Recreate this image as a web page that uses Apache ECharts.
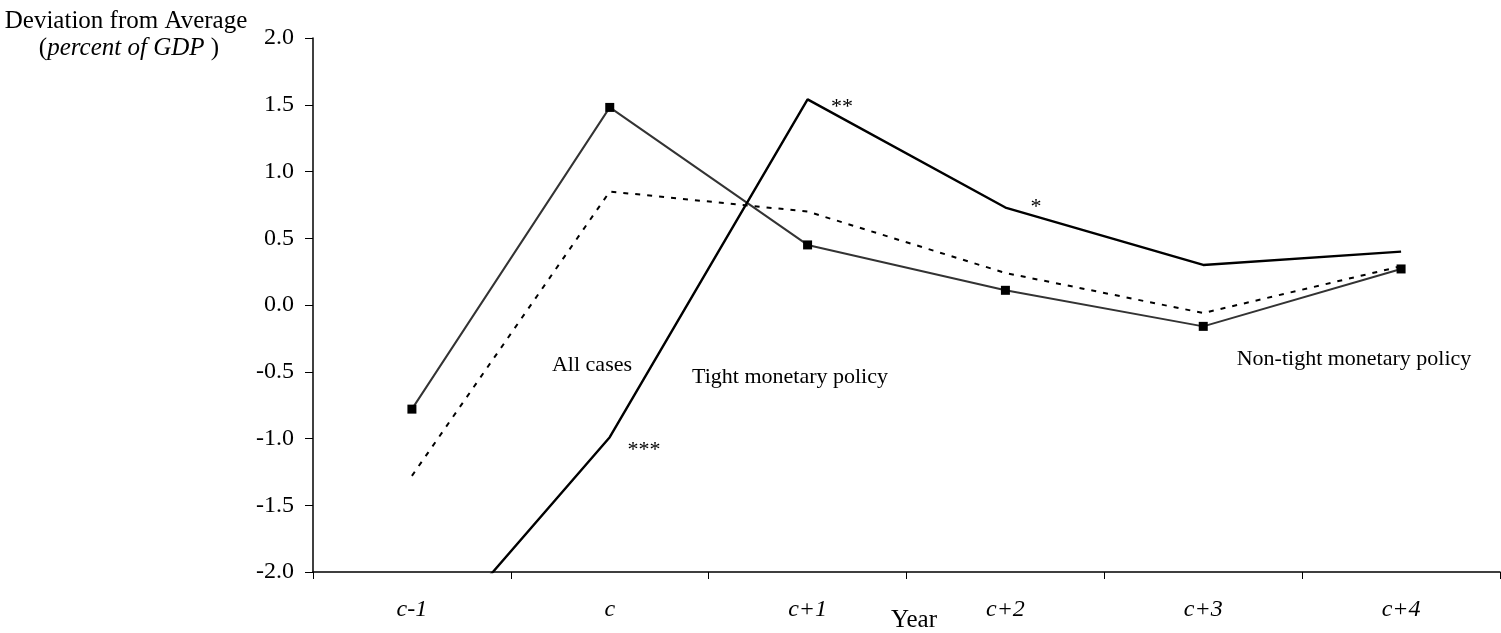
<!DOCTYPE html>
<html>
<head>
<meta charset="utf-8">
<script src="https://cdn.jsdelivr.net/npm/echarts@6/dist/echarts.min.js"></script>
<style>
html,body{margin:0;padding:0;background:#fff;}
#chart{width:1501px;height:633px;}
</style>
</head>
<body>
<div id="chart"></div>
<script>
const categories = ['c-1', 'c', 'c+1', 'c+2', 'c+3', 'c+4'];
const allCases = [-0.78, 1.48, 0.45, 0.11, -0.16, 0.27];
const tightPolicy = [-2.70, -0.99, 1.54, 0.73, 0.30, 0.40];
const nonTightPolicy = [-1.28, 0.85, 0.70, 0.24, -0.06, 0.29];
const yTicks = { min: -2, max: 2, interval: 0.5 };

const FONT = '"Liberation Serif", "Times New Roman", serif';
const chart = echarts.init(document.getElementById('chart'));
chart.setOption({
  backgroundColor: '#fff',
  animation: false,
  grid: { left: 313, right: 1, top: 38, bottom: 61, containLabel: false },
  xAxis: {
    type: 'category',
    data: categories,
    boundaryGap: true,
    axisLine: { onZero: false, lineStyle: { color: '#000', width: 1.5 } },
    axisTick: { show: true, length: 7, inside: false, lineStyle: { color: '#000' } },
    axisLabel: { margin: 26, fontFamily: FONT, fontStyle: 'italic', fontSize: 24, color: '#000' },
    splitLine: { show: false }
  },
  yAxis: {
    type: 'value',
    min: yTicks.min, max: yTicks.max, interval: yTicks.interval,
    axisLine: { show: true, lineStyle: { color: '#000', width: 1.5 } },
    axisTick: { show: true, length: 8, lineStyle: { color: '#000' } },
    axisLabel: { margin: 19, fontFamily: FONT, fontSize: 24, color: '#000',
      formatter: v => v.toFixed(1) },
    splitLine: { show: false }
  },
  series: [
    {
      name: 'All cases', type: 'line', data: allCases,
      symbol: 'rect', symbolSize: 9,
      itemStyle: { color: '#000' },
      lineStyle: { color: '#333', width: 2 },
      clip: true
    },
    {
      name: 'Tight monetary policy', type: 'line', data: tightPolicy,
      showSymbol: false, symbol: 'none',
      lineStyle: { color: '#000', width: 2.4 },
      clip: true
    },
    {
      name: 'Non-tight monetary policy', type: 'line', data: nonTightPolicy,
      showSymbol: false, symbol: 'none',
      lineStyle: { color: '#000', width: 2, type: [5, 7] },
      clip: true
    }
  ],
  graphic: [
    { type: 'text', x: 126, y: 21, style: {
      text: 'Deviation from Average', fontFamily: FONT, fontSize: 25, fill: '#000',
      align: 'center', verticalAlign: 'middle' } },
    { type: 'text', x: 129, y: 48, style: {
      text: '({i|percent of GDP} )', fontFamily: FONT, fontSize: 25, fill: '#000',
      align: 'center', verticalAlign: 'middle',
      rich: { i: { fontFamily: FONT, fontStyle: 'italic', fontSize: 25, fill: '#000' } } } },
    { type: 'text', x: 914, y: 620, style: {
      text: 'Year', fontFamily: FONT, fontSize: 25, fill: '#000', align: 'center', verticalAlign: 'middle' } },
    { type: 'text', x: 592, y: 365, style: {
      text: 'All cases', fontFamily: FONT, fontSize: 22, fill: '#000', align: 'center', verticalAlign: 'middle' } },
    { type: 'text', x: 790, y: 377, style: {
      text: 'Tight monetary policy', fontFamily: FONT, fontSize: 22, fill: '#000', align: 'center', verticalAlign: 'middle' } },
    { type: 'text', x: 1354, y: 359, style: {
      text: 'Non-tight monetary policy', fontFamily: FONT, fontSize: 22, fill: '#000', align: 'center', verticalAlign: 'middle' } },
    { type: 'text', x: 644, y: 450, style: {
      text: '***', fontFamily: FONT, fontSize: 22, fill: '#000', align: 'center', verticalAlign: 'middle' } },
    { type: 'text', x: 842, y: 107, style: {
      text: '**', fontFamily: FONT, fontSize: 22, fill: '#000', align: 'center', verticalAlign: 'middle' } },
    { type: 'text', x: 1036, y: 207, style: {
      text: '*', fontFamily: FONT, fontSize: 22, fill: '#000', align: 'center', verticalAlign: 'middle' } }
  ]
});
</script>
</body>
</html>
